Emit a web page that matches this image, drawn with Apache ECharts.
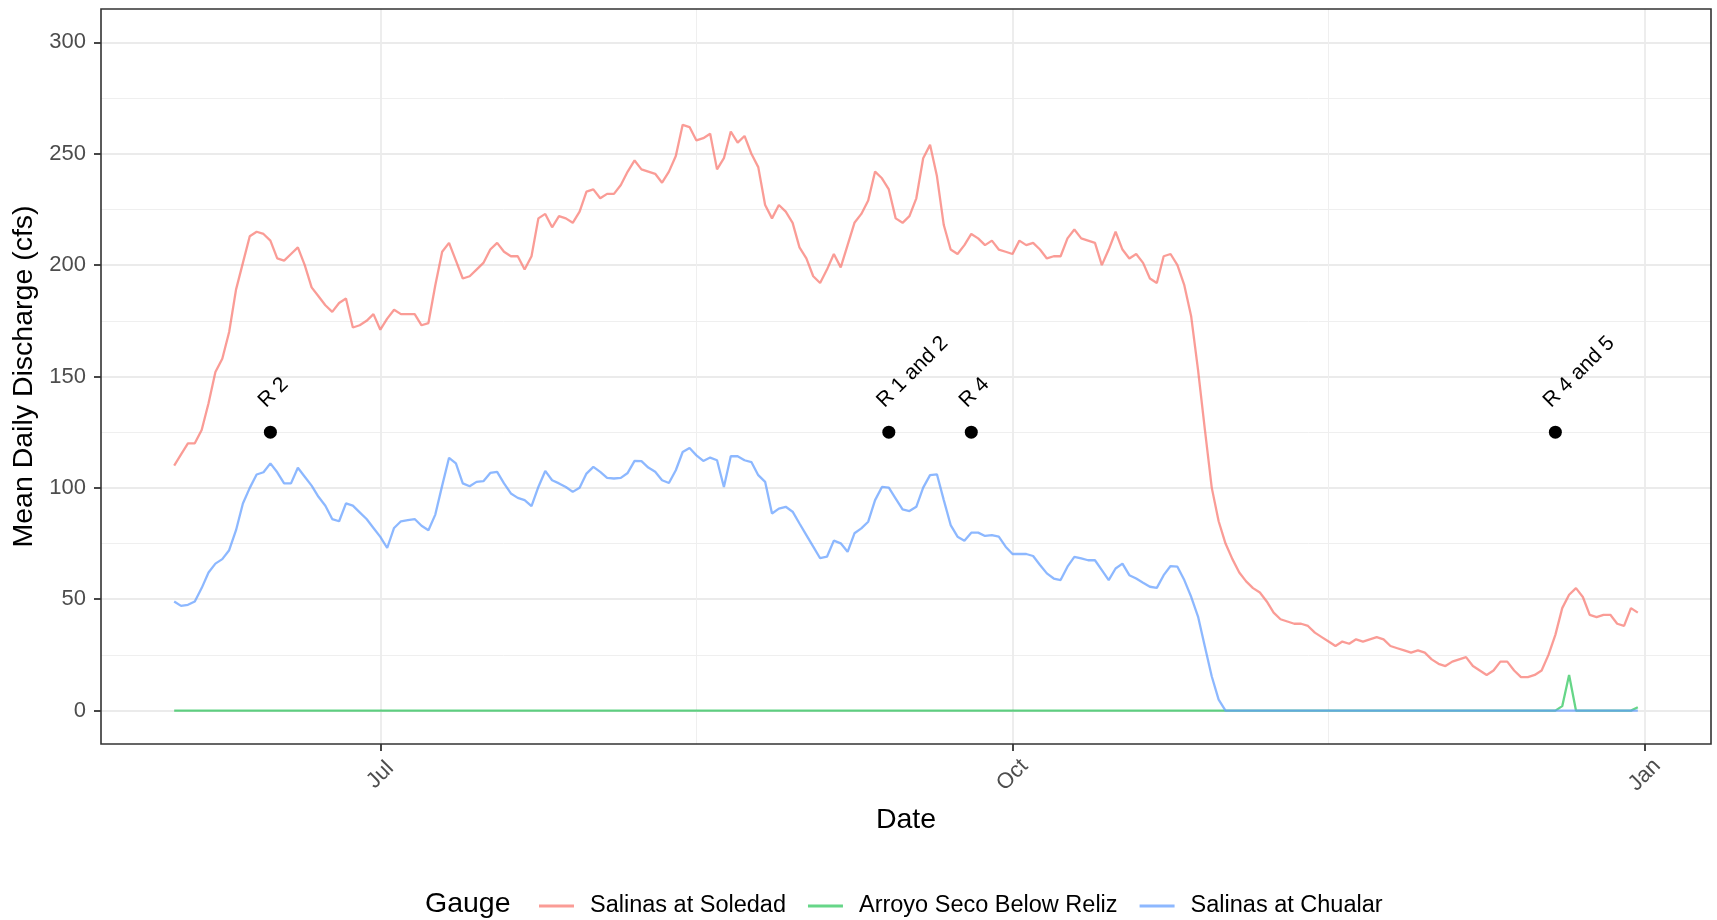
<!DOCTYPE html>
<html>
<head>
<meta charset="utf-8">
<script src="https://cdn.jsdelivr.net/npm/echarts@6/dist/echarts.min.js"></script>
<style>
html,body{margin:0;padding:0;background:#fff;}
#chart{width:1717px;height:920px;}
</style>
</head>
<body>
<div id="chart"></div>
<script>
// ---------- data ----------
const firstDate = '2018-06-01';   // daily series, Jun 1 .. Dec 31
const seriesNames = ['Salinas at Soledad', 'Arroyo Seco Below Reliz', 'Salinas at Chualar'];

const soledad = [
  110,115,120,120,126,138,152,158,170,189,201,213,215,214,211,203,202,205,208,200,
  190,186,182,179,183,185,172,173,175,178,
  171,176,180,178,178,178,173,174,191,206,210,202,194,
  195,198,201,207,210,206,204,204,198,204,221,223,217,222,221,219,224,233,234,230,
  232,232,236,242,247,243,242,241,237,242,249,263,262,256,257,259,243,248,260,255,258,250,
  244,227,221,227,224,219,208,203,195,192,198,205,199,209,219,223,229,242,239,234,
  221,219,222,230,248,254,240,218,207,205,209,214,212,209,211,207,206,205,211,209,210,207,
  203,204,204,212,216,212,211,210,200,207,215,207,203,205,201,194,192,204,205,200,
  191,177,153,126,100,85,75,68,62,58,55,53,49,44,41,40,39,39,38,35,33,31,29,31,30,32,31,32,
  33,32,29,28,27,26,27,26,23,21,20,22,23,24,20,18,16,18,22,22,18,15,15,16,18,
  25,34,46,52,55,51,43,42,43,43,39,38,46,44
];

const chualar = [
  49,47,47.5,49,55,62,66,68,72,81,93,100,106,107,111,107,102,102,109,105,
  101,96,92,86,85,93,92,89,86,82,
  78,73,82,85,85.5,86,83,81,88,101,113.5,111,102,
  100.7,102.7,103,106.7,107.2,102,97.5,95.5,94.5,91.8,100.4,107.6,103.4,102,100.4,98.2,100,106.4,109.4,107.2,
  104.5,104.2,104.5,106.7,112.1,112,109.1,107.2,103.4,102.2,107.9,116.1,117.9,114.6,112.1,113.6,112.4,100.4,114.2,114.2,112.4,111.6,
  105.7,102.7,88.5,90.7,91.5,89.3,84,78.8,73.6,68.4,69.1,76.3,75.1,71.3,79.6,81.8,84.8,94.5,100.4,100.1,
  95.2,90.3,89.6,91.5,100.1,105.7,106.1,94.5,83.3,78.1,76.3,79.9,79.9,78.4,78.8,78.1,73.6,70.3,70.3,70.3,69.4,65.4,
  61.6,59.3,58.6,64.6,69,68.3,67.5,67.5,63.1,58.6,63.8,66,60.8,59.3,57.4,55.6,55.1,60.8,64.9,64.6,
  58.6,51.1,42.2,28.7,15.3,4.9,
  0,0,0,0,0,0,0,0,0,0,0,0,0,0,0,0,0,0,0,0,
  0,0,0,0,0,0,0,0,0,0,0,0,0,0,0,0,0,0,0,0,
  0,0,0,0,0,0,0,0,0,0,0,0,0,0,0,0,0,0,0,0,0
];

const arroyoSeco = [
  0,0,0,0,0,0,0,0,0,0,0,0,0,0,0,0,0,0,0,0,
  0,0,0,0,0,0,0,0,0,0,0,0,0,0,0,0,0,0,0,0,
  0,0,0,0,0,0,0,0,0,0,0,0,0,0,0,0,0,0,0,0,
  0,0,0,0,0,0,0,0,0,0,0,0,0,0,0,0,0,0,0,0,
  0,0,0,0,0,0,0,0,0,0,0,0,0,0,0,0,0,0,0,0,
  0,0,0,0,0,0,0,0,0,0,0,0,0,0,0,0,0,0,0,0,
  0,0,0,0,0,0,0,0,0,0,0,0,0,0,0,0,0,0,0,0,
  0,0,0,0,0,0,0,0,0,0,0,0,0,0,0,0,0,0,0,0,
  0,0,0,0,0,0,0,0,0,0,0,0,0,0,0,0,0,0,0,0,
  0,0,0,0,0,0,0,0,0,0,0,0,0,0,0,0,0,0,0,0,
  0,0,2,16,0,0,0,0,0,0,0,0,0,1.5
];

const releaseDates  = ['2018-06-15', '2018-09-13', '2018-09-25', '2018-12-19'];
const releaseLabels = ['R 2', 'R 1 and 2', 'R 4', 'R 4 and 5'];
const releaseLevel  = 125;

const xTickDates  = ['2018-07-01', '2018-10-01', '2019-01-01'];
const xTickLabels = ['Jul', 'Oct', 'Jan'];
const yTicks      = [0, 50, 100, 150, 200, 250, 300];
const yLimits     = [0, 300];

// ---------- helpers ----------
const DAY = 86400000;
const UNIT = 46 * DAY;                          // half of a quarter: Jul1 -> Oct1 -> Jan1 = 2 units each
const ORIGIN = Date.parse(xTickDates[0] + 'T00:00:00Z');
const toMs = s => Date.parse(s + 'T00:00:00Z');
const toX = ms => (ms - ORIGIN) / UNIT;

const startMs = toMs(firstDate);
const dates = soledad.map((_, i) => startMs + i * DAY);
const xs = dates.map(toX);

const xRange = xs[xs.length - 1] - xs[0];
const xMin = xs[0] - 0.05 * xRange;
const xMax = xs[xs.length - 1] + 0.05 * xRange;
const yPad = 0.05 * (yLimits[1] - yLimits[0]);

const xTickVals = xTickDates.map(d => toX(toMs(d)));

const GRID = { left: 101, top: 9, width: 1610, height: 735 };
const FONT = 'Liberation Sans, Arial, Helvetica, sans-serif';

const colors = ['rgba(248,118,109,0.72)', 'rgba(0,186,56,0.6)', 'rgba(97,156,255,0.72)'];
const seriesValues = [soledad, arroyoSeco, chualar];

const lineSeries = seriesNames.map((name, si) => ({
  name: name,
  type: 'line',
  data: seriesValues[si].map((v, i) => [xs[i], v]),
  showSymbol: false,
  symbol: 'none',
  color: colors[si],
  lineStyle: { width: 2.3, color: colors[si] },
  z: 3 + si,
  animation: false
}));

const pointSeries = {
  name: 'releases',
  type: 'scatter',
  data: releaseDates.map((d, i) => ({ name: releaseLabels[i], value: [toX(toMs(d)), releaseLevel] })),
  symbol: 'circle',
  symbolSize: 13,
  itemStyle: { color: '#000', opacity: 1 },
  z: 10,
  label: {
    show: true,
    formatter: '{b}',
    position: [-2, -21.5],
    rotate: 45,
    align: 'left',
    verticalAlign: 'middle',
    fontSize: 21,
    fontFamily: FONT,
    color: '#000'
  },
  animation: false
};

const chart = echarts.init(document.getElementById('chart'), null, { renderer: 'canvas' });

chart.setOption({
  animation: false,
  backgroundColor: '#fff',
  textStyle: { fontFamily: FONT },
  grid: Object.assign({ show: false }, GRID),
  xAxis: {
    type: 'value',
    min: xMin,
    max: xMax,
    minInterval: 2,
    maxInterval: 2,
    name: 'Date',
    nameLocation: 'middle',
    nameGap: 62,
    nameTextStyle: { fontSize: 28.5, color: '#000', fontFamily: FONT },
    axisLine: { show: false, onZero: false },
    axisTick: { show: true, length: 7, customValues: xTickVals, lineStyle: { color: '#333', width: 1.8 } },
    axisLabel: {
      customValues: xTickVals,
      formatter: v => {
        const idx = xTickVals.findIndex(t => Math.abs(t - v) < 1e-6);
        return idx >= 0 ? xTickLabels[idx] : '';
      },
      rotate: 45,
      align: 'center',
      verticalAlign: 'middle',
      margin: 31,
      fontSize: 22,
      color: '#4D4D4D',
      fontFamily: FONT
    },
    splitLine: { show: true, lineStyle: { color: '#EBEBEB', width: 1.8 } },
    minorTick: { show: false, splitNumber: 2 },
    minorSplitLine: { show: true, lineStyle: { color: '#EFEFEF', width: 1 } }
  },
  yAxis: {
    type: 'value',
    min: yLimits[0] - yPad,
    max: yLimits[1] + yPad,
    minInterval: 50,
    maxInterval: 50,
    name: 'Mean Daily Discharge (cfs)',
    nameLocation: 'middle',
    nameGap: 62,
    nameTextStyle: { fontSize: 28.5, color: '#000', fontFamily: FONT },
    axisLine: { show: false, onZero: false },
    axisTick: { show: true, length: 7, customValues: yTicks, lineStyle: { color: '#333', width: 1.8 } },
    axisLabel: {
      customValues: yTicks,
      formatter: v => (yTicks.indexOf(Math.round(v)) >= 0 && Math.abs(v - Math.round(v)) < 1e-6) ? String(Math.round(v)) : '',
      margin: 15,
      fontSize: 22,
      color: '#4D4D4D',
      fontFamily: FONT
    },
    splitLine: { show: true, lineStyle: { color: '#EBEBEB', width: 1.8 } },
    minorTick: { show: false, splitNumber: 2 },
    minorSplitLine: { show: true, lineStyle: { color: '#EFEFEF', width: 1 } }
  },
  legend: {
    data: seriesNames,
    orient: 'horizontal',
    left: 534,
    top: 889,
    icon: 'rect',
    itemWidth: 35,
    itemHeight: 3,
    itemGap: 22,
    selectedMode: false,
    itemStyle: { borderWidth: 0 },
    textStyle: { fontSize: 23.5, color: '#000', fontFamily: FONT, padding: [0, 0, 0, 11] }
  },
  graphic: [
    {
      type: 'rect',
      silent: true,
      z: 100,
      shape: { x: GRID.left, y: GRID.top, width: GRID.width, height: GRID.height },
      style: { fill: 'none', stroke: '#333', lineWidth: 1.6 }
    },
    {
      type: 'text',
      silent: true,
      x: 425,
      y: 904,
      style: { text: 'Gauge', fontSize: 28.5, fontFamily: FONT, fill: '#000', verticalAlign: 'middle' }
    }
  ],
  series: lineSeries.concat([pointSeries])
});
</script>
</body>
</html>
